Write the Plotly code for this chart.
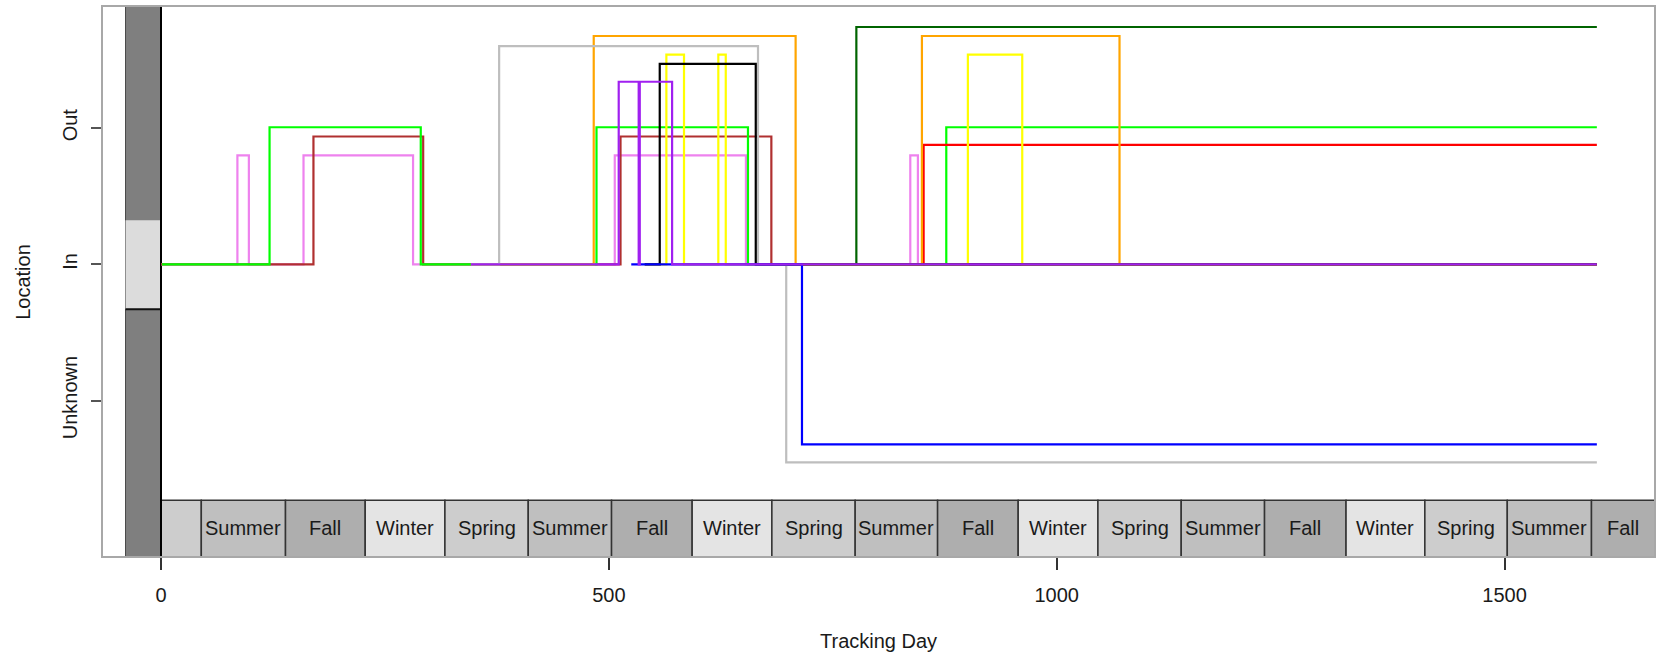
import plotly.graph_objects as go

# ---------------- data ----------------
# Location coding: Out = +1, In = 0, Unknown = -1; each animal's line is slightly jittered
loc_tickvals = [1, 0, -1]
loc_ticktext = ["Out", "In", "Unknown"]
day_tickvals = [0, 500, 1000, 1500]

# tracking day at which each animal's location changes, and the (jittered) location from that day on
violet_days = [0, 85.3, 98.1, 159.1, 281.4, 506.6, 653, 836.5, 845, 1603]
violet_loc = [0, 0.80, 0, 0.80, 0, 0.80, 0, 0.80, 0, 0]

brown_days = [0, 170.2, 292.7, 513, 681.4, 1603]
brown_loc = [0, 0.939, 0, 0.939, 0, 0]

lime_days = [1, 121.2, 290, 486.2, 655.3, 876.7, 1603]
lime_loc = [0, 1.007, 0, 1.007, 0, 1.007, 1.007]

red_days = [780, 851.4, 1603]
red_loc = [0, 0.878, 0.878]

darkgreen_days = [700, 776.3, 1603]
darkgreen_loc = [0, 1.743, 1.743]

orange_days = [346, 483.1, 708.5, 849.5, 1070.1, 1603]
orange_loc = [0, 1.677, 0, 1.677, 0, 0]

gray_days = [346, 377.5, 666.5, 698, 1603]
gray_loc = [0, 1.602, 0, -1.454, -1.454]

yellow_days = [540, 564.2, 583.9, 622.2, 630.5, 900.8, 961.5, 1603]
yellow_loc = [0, 1.541, 0, 1.541, 0, 1.541, 0, 0]

black_days = [540, 556.8, 664, 1603]
black_loc = [0, 1.473, 0, 0]

blue_days = [525, 715.6, 1603]
blue_loc = [0, -1.322, -1.322]

purple_days = [346, 511, 533.3, 534.5, 570.6, 1603]
purple_loc = [0, 1.341, 0, 1.341, 0, 0]

# seasons along the tracking-day axis
season_starts = [0, 45, 139, 228, 317, 410, 503, 593, 682, 775, 867, 957, 1046, 1139, 1232, 1323, 1411, 1503, 1597]
season_ends = [45, 139, 228, 317, 410, 503, 593, 682, 775, 867, 957, 1046, 1139, 1232, 1323, 1411, 1503, 1597, 1760]
season_names = ["Spring", "Summer", "Fall", "Winter", "Spring", "Summer", "Fall", "Winter", "Spring",
                "Summer", "Fall", "Winter", "Spring", "Summer", "Fall", "Winter", "Spring", "Summer", "Fall"]
season_labelled = [False] + [True] * 18

# ---------------- styling ----------------
series = [
    ("violet", violet_days, violet_loc, "#EE82EE"),
    ("brown", brown_days, brown_loc, "#B03030"),
    ("lime", lime_days, lime_loc, "#00FF00"),
    ("red", red_days, red_loc, "#FF0000"),
    ("darkgreen", darkgreen_days, darkgreen_loc, "#006400"),
    ("orange", orange_days, orange_loc, "#FFA500"),
    ("gray", gray_days, gray_loc, "#BEBEBE"),
    ("yellow", yellow_days, yellow_loc, "#FFFF00"),
    ("black", black_days, black_loc, "#000000"),
    ("blue", blue_days, blue_loc, "#0000FF"),
    ("purple", purple_days, purple_loc, "#A020F0"),
]
season_fill = {"Spring": "#CDCDCD", "Summer": "#BFBFBF", "Fall": "#AEAEAE", "Winter": "#E4E4E4"}

XMIN, XMAX = -64.75, 1666.8
YMIN, YMAX = -2.141, 1.890
BAND_X0 = -39.6
IN_TOP, IN_BOT = 0.324, -0.329
SEASON_TOP = -1.732
SEASON_MID = -1.936
FONT = "Liberation Sans, Arial, sans-serif"

fig = go.Figure()
for name, d, v, col in series:
    fig.add_trace(go.Scatter(x=d, y=v, mode="lines", name=name,
                             line=dict(color=col, width=2.2, shape="hv"),
                             showlegend=False, hoverinfo="skip"))

shapes = []
# left location band
shapes.append(dict(type="rect", xref="x", yref="y", x0=BAND_X0, x1=0, y0=YMIN - 0.2, y1=YMAX + 0.2,
                   fillcolor="#7F7F7F", line=dict(color="#4A4A4A", width=1), layer="below"))
shapes.append(dict(type="rect", xref="x", yref="y", x0=BAND_X0, x1=0, y0=IN_BOT, y1=IN_TOP,
                   fillcolor="#DCDCDC", line=dict(width=0), layer="below"))
shapes.append(dict(type="line", xref="x", yref="y", x0=BAND_X0, x1=0, y0=IN_BOT, y1=IN_BOT,
                   line=dict(color="#111111", width=2), layer="below"))
# seasons
annotations = []
for s, e, nm, lab in zip(season_starts, season_ends, season_names, season_labelled):
    shapes.append(dict(type="rect", xref="x", yref="y", x0=s, x1=e, y0=YMIN - 0.2, y1=SEASON_TOP,
                       fillcolor=season_fill[nm], line=dict(color="#333333", width=1.5), layer="below"))
    if lab:
        cx = (s + min(e, XMAX)) / 2
        annotations.append(dict(x=cx, y=SEASON_MID, xref="x", yref="y", text=nm, showarrow=False,
                                font=dict(family=FONT, size=20, color="#1a1a1a"),
                                xanchor="center", yanchor="middle"))
# vertical line at day 0
shapes.append(dict(type="line", xref="x", yref="y", x0=0, x1=0, y0=YMIN - 0.2, y1=YMAX + 0.2,
                   line=dict(color="#000000", width=2), layer="below"))

# axis titles
annotations.append(dict(x=0.5, y=-0.155, xref="paper", yref="paper", text="Tracking Day",
                        showarrow=False, font=dict(family=FONT, size=20, color="#1a1a1a"),
                        xanchor="center", yanchor="middle"))
annotations.append(dict(x=-0.052, y=0.5, xref="paper", yref="paper", text="Location", textangle=-90,
                        showarrow=False, font=dict(family=FONT, size=20, color="#1a1a1a"),
                        xanchor="center", yanchor="middle"))

fig.update_layout(
    width=1661, height=658,
    margin=dict(l=103, r=7, t=5, b=102),
    paper_bgcolor="white", plot_bgcolor="white",
    shapes=shapes, annotations=annotations,
    font=dict(family=FONT, size=20, color="#1a1a1a"),
)
fig.update_xaxes(range=[XMIN, XMAX], tickvals=day_tickvals, ticks="outside", ticklen=12,
                 tickwidth=1.5, tickcolor="#333333", showgrid=False, zeroline=False,
                 showline=True, mirror=True, linecolor="#A8A8A8", linewidth=2,
                 ticklabelstandoff=8, tickfont=dict(family=FONT, size=20, color="#1a1a1a"))
fig.update_yaxes(range=[YMIN, YMAX], tickvals=loc_tickvals, ticktext=loc_ticktext, tickangle=-90,
                 ticks="outside", ticklen=10, tickwidth=1.5, tickcolor="#555555", showgrid=False,
                 zeroline=False, showline=True, mirror=True, linecolor="#A8A8A8", linewidth=2,
                 ticklabelstandoff=6, tickfont=dict(family=FONT, size=20, color="#1a1a1a"))

fig.write_html("out.html", config={"displayModeBar": False},
               post_script="document.body.style.margin='0px';")
